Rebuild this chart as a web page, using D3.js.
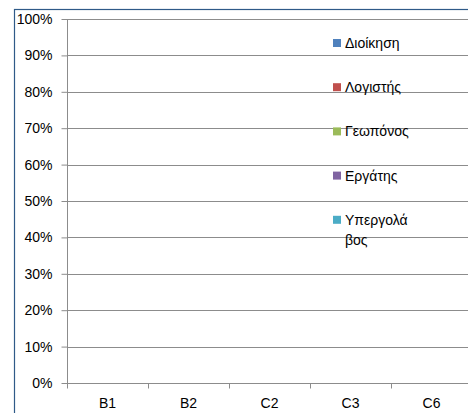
<!DOCTYPE html>
<html>
<head>
<meta charset="utf-8">
<script src="https://cdn.jsdelivr.net/npm/d3@7"></script>
<style>
  html, body { margin: 0; padding: 0; background: #fff; }
  text { font-family: "Liberation Sans", "DejaVu Sans", sans-serif; }
</style>
</head>
<body>
<div id="chart"></div>
<script>
// categories and series (the chart has no visible bars: every value is 0)
const categories = ["B1", "B2", "C2", "C3", "C6"];
const seriesNames = ["Διοίκηση", "Λογιστής", "Γεωπόνος", "Εργάτης", "Υπεργολάβος"];
const legendLines = [["Διοίκηση"], ["Λογιστής"], ["Γεωπόνος"], ["Εργάτης"], ["Υπεργολά", "βος"]];
const seriesColors = ["#4F81BD", "#C0504D", "#9BBB59", "#8064A2", "#4BACC6"];
const diikisi = [0, 0, 0, 0, 0];
const logistis = [0, 0, 0, 0, 0];
const geoponos = [0, 0, 0, 0, 0];
const ergatis = [0, 0, 0, 0, 0];
const ypergolavos = [0, 0, 0, 0, 0];
const yTicks = [0, 0.1, 0.2, 0.3, 0.4, 0.5, 0.6, 0.7, 0.8, 0.9, 1];

let width = 468;
let height = 413;
let margin = { top: 19, left: 67, bottom: 30 };
let plotRight = 472;

let svg = d3.select("#chart").append("svg").attr("width", width).attr("height", height);

// chart area border (left and top edges visible)
svg.append("rect")
  .attr("x", 14.5).attr("y", 9.5)
  .attr("width", 470).attr("height", 420)
  .attr("fill", "none").attr("stroke", "#2F5A88").attr("stroke-width", 1.2);

let x = d3.scaleBand().domain(categories).range([margin.left, plotRight]);
let y = d3.scaleLinear().domain([0, 1]).range([383, margin.top]);

// gridlines
svg.append("g").selectAll("line")
  .data(yTicks.filter((d) => d > 0))
  .enter().append("line")
  .attr("x1", margin.left).attr("x2", width)
  .attr("y1", (d) => Math.round(y(d)) + 0.5)
  .attr("y2", (d) => Math.round(y(d)) + 0.5)
  .attr("stroke", "#8C8C8C").attr("stroke-width", 1);

// build table and stack to 100%
const table = categories.map((c, i) => ({
  cat: c,
  [seriesNames[0]]: diikisi[i],
  [seriesNames[1]]: logistis[i],
  [seriesNames[2]]: geoponos[i],
  [seriesNames[3]]: ergatis[i],
  [seriesNames[4]]: ypergolavos[i],
}));
const stacked = d3.stack().keys(seriesNames).offset(d3.stackOffsetExpand)(table);

svg.append("g").selectAll("g")
  .data(stacked)
  .enter().append("g")
  .attr("fill", (d, i) => seriesColors[i])
  .selectAll("rect")
  .data((d) => d)
  .enter().append("rect")
  .attr("x", (d) => x(d.data.cat) + x.bandwidth() * 0.2)
  .attr("width", x.bandwidth() * 0.6)
  .attr("y", (d) => (isNaN(d[1]) ? y(0) : y(d[1])))
  .attr("height", (d) => (isNaN(d[1]) || isNaN(d[0]) ? 0 : y(d[0]) - y(d[1])));

// y axis
let yAxis = d3.axisLeft(y).tickValues(yTicks).tickFormat(d3.format(".0%")).tickSize(6).tickPadding(9);
let gy = svg.append("g").attr("transform", "translate(" + (margin.left + 0.5) + ",0)").call(yAxis);
gy.select(".domain").attr("stroke", "#8C8C8C").attr("d", "M0," + y(1) + "V" + y(0));
gy.selectAll(".tick line").attr("stroke", "#8C8C8C");
gy.selectAll("text").style("font-size", "14px").attr("fill", "#000");

// x axis
let xAxis = d3.axisBottom(x).tickSize(0).tickPadding(15);
let gx = svg.append("g").attr("transform", "translate(0," + (Math.round(y(0)) + 0.5) + ")").call(xAxis);
gx.select(".domain").attr("stroke", "#8C8C8C").attr("d", "M" + margin.left + ",0H" + width);
gx.selectAll("text").style("font-size", "14px").attr("fill", "#000");
// category separator ticks
gx.append("g").selectAll("line")
  .data(categories)
  .enter().append("line")
  .attr("x1", (d) => Math.round(x(d)) + 0.5).attr("x2", (d) => Math.round(x(d)) + 0.5)
  .attr("y1", 0).attr("y2", 5)
  .attr("stroke", "#8C8C8C");

// legend
let legend = svg.append("g");
let item = legend.selectAll("g")
  .data(seriesNames)
  .enter().append("g")
  .attr("transform", (d, i) => "translate(333," + (43 + i * 44.2) + ")");
item.append("rect")
  .attr("x", 0).attr("y", -4).attr("width", 8).attr("height", 8)
  .attr("fill", (d, i) => seriesColors[i]);
item.append("text")
  .attr("x", 11).attr("y", 0)
  .style("font-size", "14px")
  .selectAll("tspan")
  .data((d, i) => legendLines[i])
  .enter().append("tspan")
  .attr("x", 12)
  .attr("dy", (d, j) => (j === 0 ? "0.35em" : "20"))
  .text((d) => d);
</script>
</body>
</html>
